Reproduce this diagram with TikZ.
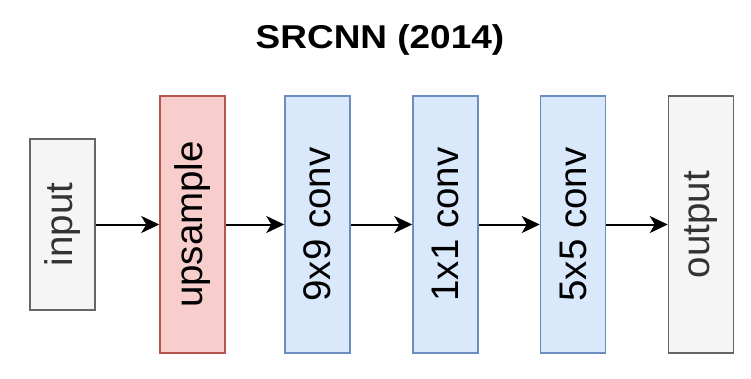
\documentclass[tikz,border=0pt]{standalone}
\usepackage{fontspec}
\setmainfont{Liberation Sans}
\usetikzlibrary{arrows.meta}
\definecolor{grayfill}{HTML}{F5F5F5}
\definecolor{grayline}{HTML}{666666}
\definecolor{graytext}{HTML}{333333}
\definecolor{redfill}{HTML}{F8CECC}
\definecolor{redline}{HTML}{B85450}
\definecolor{bluefill}{HTML}{DAE8FC}
\definecolor{blueline}{HTML}{6C8EBF}
\tikzset{
  layer/.style={draw, line width=1.5pt, minimum width=65pt, inner sep=0pt,
    font=\fontsize{38.5}{40}\selectfont},
  io/.style={layer, fill=grayfill, draw=grayline, text=graytext, minimum height=171pt},
  upbox/.style={layer, fill=redfill, draw=redline, minimum height=257pt},
  convbox/.style={layer, fill=bluefill, draw=blueline, minimum height=257pt},
  flow/.style={line width=2pt, -{Stealth[length=18pt,width=17pt,inset=5pt]}},
}
\begin{document}
\begin{tikzpicture}[x=1pt, y=-1pt]
  \useasboundingbox (0,0) rectangle (751,379);
  \node[font=\bfseries\fontsize{33}{36}\selectfont, xscale=1.12] (title) at (380,40) {SRCNN (2014)};
  \node[io]      (in)  at (62.5,224.5)  {\rotatebox{90}{input}};
  \node[upbox]   (up)  at (192.5,224.5) {\rotatebox{90}{upsample}};
  \node[convbox] (c9)  at (317.5,224.5) {\rotatebox{90}{9x9 conv}};
  \node[convbox] (c1)  at (445.5,224.5) {\rotatebox{90}{1x1 conv}};
  \node[convbox] (c5)  at (573,224.5)   {\rotatebox{90}{5x5 conv}};
  \node[io, minimum height=257pt] (out) at (701,224.5) {\rotatebox{90}{output}};
  \draw[flow] (in) -- (up);
  \draw[flow] (up) -- (c9);
  \draw[flow] (c9) -- (c1);
  \draw[flow] (c1) -- (c5);
  \draw[flow] (c5) -- (out);
\end{tikzpicture}
\end{document}
